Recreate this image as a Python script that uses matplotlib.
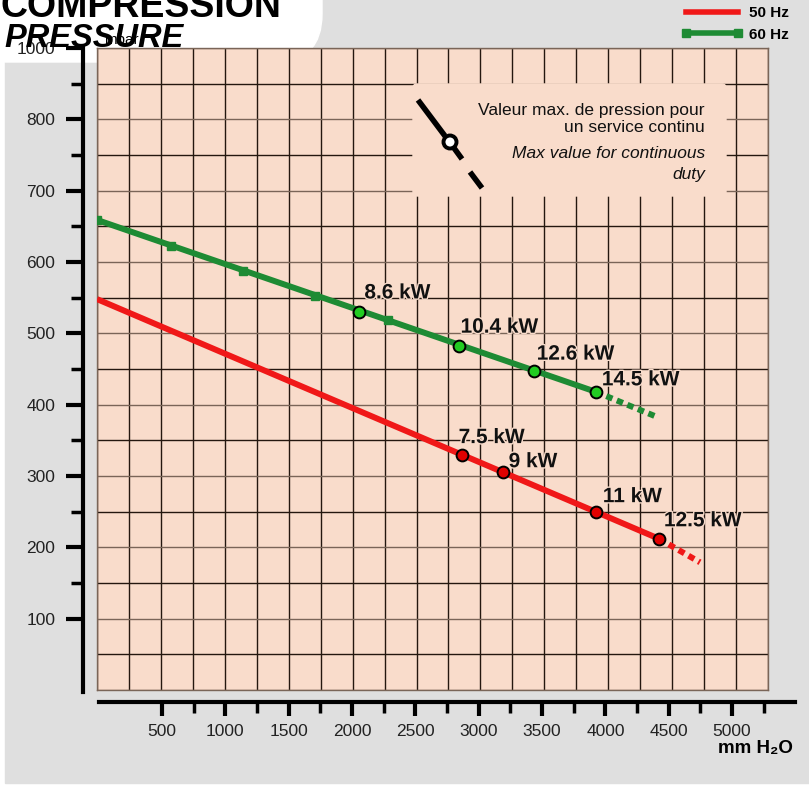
import numpy as np
import matplotlib
matplotlib.use('Agg')
import matplotlib.pyplot as plt
import matplotlib.patheffects as pe
import matplotlib.transforms as mtransforms
from matplotlib.lines import Line2D
from matplotlib.patches import Rectangle, FancyBboxPatch, Circle

plt.rcParams['font.family'] = ['Liberation Sans', 'DejaVu Sans']

# 50 Hz curve (mbar vs mm H2O)
red_x = [0, 4397]
red_y = [548, 212]
red_ext_x = [4397, 4718]
red_ext_y = [212, 179]
red_pt_x = [2853, 3174, 3903, 4397]
red_pt_y = [330, 306, 250, 212]
red_pt_labels = ['7.5 kW', '9 kW', '11 kW', '12.5 kW']

# 60 Hz curve
green_x = [0, 3903]
green_y = [659, 418]
green_ext_x = [3903, 4365]
green_ext_y = [418, 384]
green_sq_x = [0, 580, 1144, 1708, 2280]
green_sq_y = [659, 622, 588, 553, 518]
green_pt_x = [2053, 2829, 3417, 3903]
green_pt_y = [530, 482, 447, 418]
green_pt_labels = ['8.6 kW', '10.4 kW', '12.6 kW', '14.5 kW']

y_ticks = [100, 200, 300, 400, 500, 600, 700, 800, 900]
y_tick_labels = ['100', '200', '300', '400', '500', '600', '700', '800', '1000']
x_ticks = [500, 1000, 1500, 2000, 2500, 3000, 3500, 4000, 4500, 5000]

# label offsets in pixels (dx, dy)
red_offsets = [(-3, 17), (6, 10), (7, 15), (5, 18)]
green_offsets = [(5, 19), (2, 19), (3, 17), (6, 12)]

RED = '#f01818'
RED_FILL = '#e00000'
GREEN = '#1e8b34'
GREEN_FILL = '#22cc22'
PEACH = '#f9dccb'
GREY = '#dfdfdf'

W, H = 809, 790
fig = plt.figure(figsize=(W / 100, H / 100), dpi=100, facecolor='white')
# pixel coords, origin top-left
px = mtransforms.Affine2D().scale(1 / W, -1 / H).translate(0, 1) + fig.transFigure

# background
fig.add_artist(Rectangle((5, 0), W, 783, transform=px, color=GREY, zorder=-5))
fig.add_artist(FancyBboxPatch((-60, -60), 382, 122, boxstyle='round,pad=0,rounding_size=48',
                              transform=px, color='white', zorder=-4))

# main grid area
ax = fig.add_axes([97 / W, 1 - 690 / H, (768 - 97) / W, (690 - 48) / H])
ax.set_facecolor(PEACH)
ax.set_xlim(0, 5250)
ax.set_ylim(0, 900)
ax.set_xticks(np.arange(0, 5251, 250))
ax.set_yticks(np.arange(0, 901, 100))
ax.set_yticks(np.arange(50, 900, 100), minor=True)
ax.xaxis.grid(True, color='#24170f', lw=1.0)
ax.yaxis.grid(True, which='major', color='#7a6558', lw=1.0)
ax.yaxis.grid(True, which='minor', color='#24170f', lw=1.0)
ax.set_axisbelow(True)
ax.tick_params(which='both', length=0, labelleft=False, labelbottom=False)
for s in ax.spines.values():
    s.set_color('#7a6558')
    s.set_linewidth(1)

# curves
ax.plot(red_x, red_y, color=RED, lw=4.3, solid_capstyle='butt', zorder=3)
ax.plot(red_ext_x, red_ext_y, color=RED, lw=4.3, ls=(0, (1.1, 0.8)), zorder=3)
ax.plot(red_pt_x, red_pt_y, 'o', ms=8.5, mfc=RED_FILL, mec='black', mew=1.4, zorder=4)

ax.plot(green_x, green_y, color=GREEN, lw=4.3, solid_capstyle='butt', zorder=3)
ax.plot(green_ext_x, green_ext_y, color=GREEN, lw=4.3, ls=(0, (1.1, 0.8)), zorder=3)
ax.plot(green_sq_x, green_sq_y, 's', ms=6, color=GREEN, zorder=3)
ax.plot(green_pt_x, green_pt_y, 'o', ms=8.5, mfc=GREEN_FILL, mec='black', mew=1.4, zorder=4)

halo = [pe.withStroke(linewidth=2, foreground=PEACH)]
for xs, ys, labs, offs in [(red_pt_x, red_pt_y, red_pt_labels, red_offsets),
                           (green_pt_x, green_pt_y, green_pt_labels, green_offsets)]:
    for x, y, lab, (dx, dy) in zip(xs, ys, labs, offs):
        ax.annotate(lab, (x, y), xytext=(dx, dy), textcoords='offset pixels',
                    ha='left', va='center', fontsize=15, fontweight='bold',
                    color='#111111', path_effects=halo, zorder=5)

# legend
handles = [Line2D([], [], color=RED, lw=4),
           Line2D([], [], color=GREEN, lw=4, marker='s', ms=6)]
ax.legend(handles, ['50 Hz', '60 Hz'], loc='upper right', bbox_to_anchor=(792 / W, 1 - 3 / H),
          bbox_transform=fig.transFigure, frameon=False, numpoints=2,
          prop={'weight': 'bold', 'size': 11}, handlelength=4.0, handletextpad=0.45,
          labelspacing=0.5, borderaxespad=0, borderpad=0.2)

# note box inside the grid
fig.add_artist(FancyBboxPatch((413, 84), 313, 112, boxstyle='round,pad=0,rounding_size=4',
                              transform=px, color=PEACH, zorder=1))
fig.add_artist(Line2D([418, 445], [100, 136], transform=px, color='black', lw=4,
                      solid_capstyle='butt', zorder=2))
fig.add_artist(Line2D([454, 462], [148, 159], transform=px, color='black', lw=4,
                      solid_capstyle='butt', zorder=2))
fig.add_artist(Line2D([470, 482], [172, 188], transform=px, color='black', lw=4,
                      solid_capstyle='butt', zorder=2))
fig.add_artist(Circle((450, 142), 6.5, transform=px, facecolor='white', edgecolor='black',
                      lw=2.8, zorder=2))
fig.text(705, 111, 'Valeur max. de pression pour', transform=px, ha='right', va='center',
         fontsize=12.5, color='#111111', zorder=2)
fig.text(705, 128, 'un service continu', transform=px, ha='right', va='center',
         fontsize=12.5, color='#111111', zorder=2)
fig.text(705, 153, 'Max value for continuous', transform=px, ha='right', va='center',
         fontsize=12.5, style='italic', color='#111111', zorder=2)
fig.text(705, 175, 'duty', transform=px, ha='right', va='center',
         fontsize=12.5, style='italic', color='#111111', zorder=2)

# left axis
axy = fig.add_axes([83 / W, 1 - 692 / H, 0.0001, (692 - 48) / H])
axy.patch.set_visible(False)
axy.set_ylim(-3, 900)
axy.set_xticks([])
for k in ['top', 'right', 'bottom']:
    axy.spines[k].set_visible(False)
axy.spines['left'].set_linewidth(3)
axy.set_yticks(y_ticks)
axy.set_yticklabels(y_tick_labels)
axy.set_yticks(np.arange(150, 900, 100), minor=True)
axy.tick_params(which='major', length=12, width=3, pad=8, labelsize=12.5, colors='black',
                labelcolor='#222222')
axy.tick_params(which='minor', length=9, width=2.5)
axy.get_yticklabels()[-1].set_y(905)

# bottom axis
axx = fig.add_axes([98.7 / W, 1 - 702 / H, (795 - 98.7) / W, 0.0001])
axx.patch.set_visible(False)
axx.set_xlim(0, 5497)
axx.set_yticks([])
for k in ['top', 'right', 'left']:
    axx.spines[k].set_visible(False)
axx.spines['bottom'].set_linewidth(3)
axx.set_xticks(x_ticks)
axx.set_xticks(np.arange(750, 5300, 500), minor=True)
axx.tick_params(which='major', length=10, width=3, pad=6, labelsize=12.5, labelcolor='#222222')
axx.tick_params(which='minor', length=8, width=2.5)

fig.text(793, 748, 'mm H\u2082O', transform=px, ha='right', va='center',
         fontsize=13.5, fontweight='bold')

# titles
fig.text(104, 40, 'mbar', transform=px, ha='left', va='center', fontsize=11, zorder=2)
fig.text(0, 17, 'COMPRESSION', transform=px, ha='left', va='baseline',
         fontsize=27, fontweight='bold', zorder=4)
fig.text(4, 47, 'PRESSURE', transform=px, ha='left', va='baseline',
         fontsize=23.5, fontweight='bold', style='italic', zorder=4)

fig.savefig('out.png', dpi=100, facecolor=fig.get_facecolor())
